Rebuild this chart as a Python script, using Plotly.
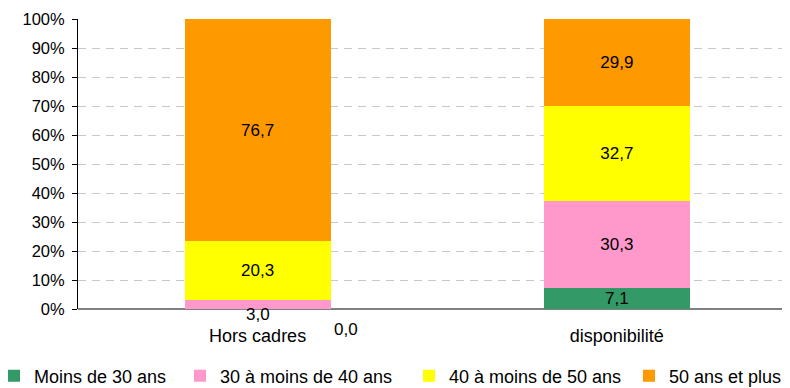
import plotly.graph_objects as go

categories = ["Hors cadres", "disponibilité"]
series_names = ["Moins de 30 ans", "30 à moins de 40 ans", "40 à moins de 50 ans", "50 ans et plus"]
moins_30 = [0.0, 7.1]
de_30_40 = [3.0, 30.3]
de_40_50 = [20.3, 32.7]
plus_50 = [76.7, 29.9]
colors = ["#339966", "#FF99CC", "#FFFF00", "#FF9900"]
y_ticks = [0, 10, 20, 30, 40, 50, 60, 70, 80, 90, 100]
y_tick_labels = ["0%", "10%", "20%", "30%", "40%", "50%", "60%", "70%", "80%", "90%", "100%"]

all_series = [moins_30, de_30_40, de_40_50, plus_50]

FONT = "Liberation Sans, Arial, sans-serif"
W, H = 782, 380  # page body has an 8px margin
ML, MR, MT, MB = 70, 0, 11, 79
PW, PH = W - ML - MR, H - MT - MB
legend_ids = ["legend", "legend2", "legend3", "legend4"]
legend_left_px = [-14, 172, 401, 621]  # figure pixels of each legend's left edge

fig = go.Figure()
for name, vals, col, lg in zip(series_names, all_series, colors, legend_ids):
    texts = [("%.1f" % v).replace(".", ",") if v >= 5 else "" for v in vals]
    fig.add_trace(go.Bar(
        x=categories, y=vals, name=name, legend=lg,
        marker=dict(color=col, line=dict(width=0)),
        text=texts, textposition="inside", insidetextanchor="middle",
        textangle=0, textfont=dict(size=17, color="black", family=FONT),
        hoverinfo="skip",
    ))

# small-value labels placed like in the original
fig.add_annotation(x=categories[0], y=moins_30[0] + de_30_40[0] / 2,
                   text=("%.1f" % de_30_40[0]).replace(".", ","), showarrow=False,
                   yshift=-10, font=dict(size=17, color="black", family=FONT))
fig.add_annotation(x=categories[0], y=0,
                   text=("%.1f" % moins_30[0]).replace(".", ","), showarrow=False,
                   xshift=88, yshift=-20, font=dict(size=17, color="black", family=FONT))

legend_common = dict(orientation="h", xref="paper", yref="paper",
                     xanchor="left", yanchor="middle", y=-(368 - (MT + PH)) / PH,
                     font=dict(size=18, family=FONT), itemwidth=30,
                     bgcolor="rgba(0,0,0,0)")
legends = {}
for lg, px in zip(legend_ids, legend_left_px):
    legends[lg] = dict(legend_common, x=(px - ML) / PW)

fig.update_layout(
    width=W, height=H,
    margin=dict(l=ML, r=MR, t=MT, b=MB, autoexpand=False),
    barmode="stack", bargap=0.593,
    plot_bgcolor="white", paper_bgcolor="white",
    font=dict(family=FONT, size=17, color="black"),
    uniformtext=dict(minsize=17, mode="show"),
    showlegend=True,
    **legends,
)
fig.update_xaxes(range=[-0.5, 1.482], showgrid=False, showline=False,
                 ticks="", tickfont=dict(size=18), ticklabelstandoff=14,
                 zeroline=False, automargin=False)
fig.update_yaxes(range=[0, 100], tickvals=y_ticks, ticktext=y_tick_labels,
                 showgrid=True, gridcolor="#c8c8c8", griddash="8px,6px", gridwidth=1,
                 showline=True, linecolor="black", linewidth=1,
                 ticks="outside", ticklen=5, tickcolor="black",
                 zeroline=True, zerolinecolor="#808080", zerolinewidth=2,
                 tickfont=dict(size=16.5), ticklabelstandoff=4, automargin=False)
fig.write_html("out.html")
